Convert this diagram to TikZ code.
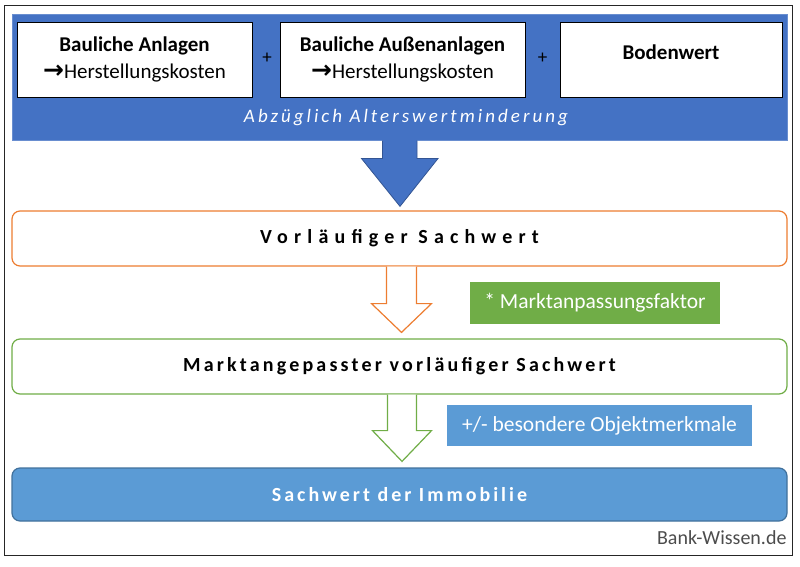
\documentclass[tikz,border=0pt]{standalone}
\usepackage{fontspec}
\setmainfont{Carlito}
\newfontfamily\arrowfont{DejaVu Sans}
\usetikzlibrary{calc}
\definecolor{bandblue}{HTML}{4472C4}
\definecolor{lightblue}{HTML}{5B9BD5}
\definecolor{darkblue}{HTML}{41719C}
\definecolor{orangeline}{HTML}{ED7D31}
\definecolor{greenfill}{HTML}{70AD47}
\newcommand{\toarrow}{{\arrowfont\bfseries\fontsize{25}{27}\selectfont →}}

\begin{document}
\begin{tikzpicture}[x=1pt,y=-1pt,
  every node/.style={font=\fontsize{21}{27}\selectfont},
  inbox/.style={draw,fill=white,line width=.8pt,minimum height=75pt,align=center,inner sep=0pt},
  stage/.style={draw,rounded corners=8pt,line width=1.2pt,minimum width=775pt,minimum height=55pt},
  tag/.style={text=white,inner sep=0pt,font=\fontsize{21.5}{24}\selectfont},
  hollow/.style={fill=white,line width=1.2pt,line join=miter}]
  \useasboundingbox (0,0) rectangle (800,567);
  \draw[black!85,line width=1pt] (4,6) rectangle (792,555);

  % band with the three parts
  \node[fill=bandblue,draw=bandblue!80!white,line width=1pt,minimum width=775pt,minimum height=125pt] (band) at (399.5,77.5) {};
  \node[inbox,minimum width=235pt] (anlagen) at (134.5,59.5) {\bfseries Bauliche Anlagen\\\toarrow Herstellungskosten};
  \node[inbox,minimum width=245pt] (aussen) at (402.5,59.5) {\bfseries Bauliche Außenanlagen\\\toarrow Herstellungskosten};
  \node[inbox,minimum width=222pt,text depth=15pt] (boden) at (671,59.5) {\bfseries Bodenwert};
  \node[font=\fontsize{19}{22}\selectfont] (plus1) at (267,58) {+};
  \node[font=\fontsize{19}{22}\selectfont] (plus2) at (542.5,58) {+};
  \node[text=white,font=\fontsize{19}{22}\selectfont\itshape\addfontfeature{LetterSpace=16}] (minderung) at (406,118) {Abzüglich Alterswertminderung};

  % the three stages
  \node[stage,fill=white,draw=orangeline,font=\fontsize{20}{24}\selectfont\bfseries\addfontfeature{LetterSpace=31}] (vs) at (399.5,238.5) {Vorläufiger Sachwert};
  \node[stage,fill=white,draw=greenfill,font=\fontsize{20}{24}\selectfont\bfseries\addfontfeature{LetterSpace=16}] (mvs) at (399.5,366.5) {Marktangepasster vorläufiger Sachwert};
  \node[stage,fill=lightblue,draw=darkblue,text=white,minimum height=53pt,font=\fontsize{20}{24}\selectfont\bfseries\addfontfeature{LetterSpace=15}] (sdi) at (399.5,494.5) {Sachwert der Immobilie};

  \node[tag,fill=greenfill,minimum width=250pt,minimum height=42pt] (faktor) at (595,303) {* Marktanpassungsfaktor};
  \node[tag,fill=lightblue,minimum width=305pt,minimum height=41pt] (merkmale) at (599.5,425.5) {+/- besondere Objektmerkmale};

  % arrows
  \fill[bandblue] ($(band.south)+(-17,-1)$) -- ++(0,19) -- ++(-21,0) -- ($(vs.north)+(0.5,-4)$)
    -- ($(band.south)+(38.5,18)$) -- ++(-21,0) -- ++(0,-19) -- cycle;
  \draw[bandblue!75!black,line width=.8pt] ($(band.south)+(-17,0)$) -- ++(0,18) -- ++(-21,0) -- ($(vs.north)+(0.5,-4)$)
    -- ($(band.south)+(38.5,18)$) -- ++(-21,0) -- ++(0,-18);
  \draw[hollow,draw=orangeline] ($(vs.south)+(-13,0)$) -- ++(0,37) -- ++(-15,0) -- ($(mvs.north)+(2,-6)$)
    -- ($(vs.south)+(32,37)$) -- ++(-15,0) -- ++(0,-37);
  \draw[hollow,draw=greenfill] ($(mvs.south)+(-12,0)$) -- ++(0,36) -- ++(-15,0) -- ($(sdi.north)+(2.5,-6)$)
    -- ($(mvs.south)+(32,36)$) -- ++(-15,0) -- ++(0,-36);

  \node[anchor=east,text=black!70,font=\fontsize{20}{24}\selectfont] (quelle) at (790,538) {Bank-Wissen.de};
\end{tikzpicture}
\end{document}
